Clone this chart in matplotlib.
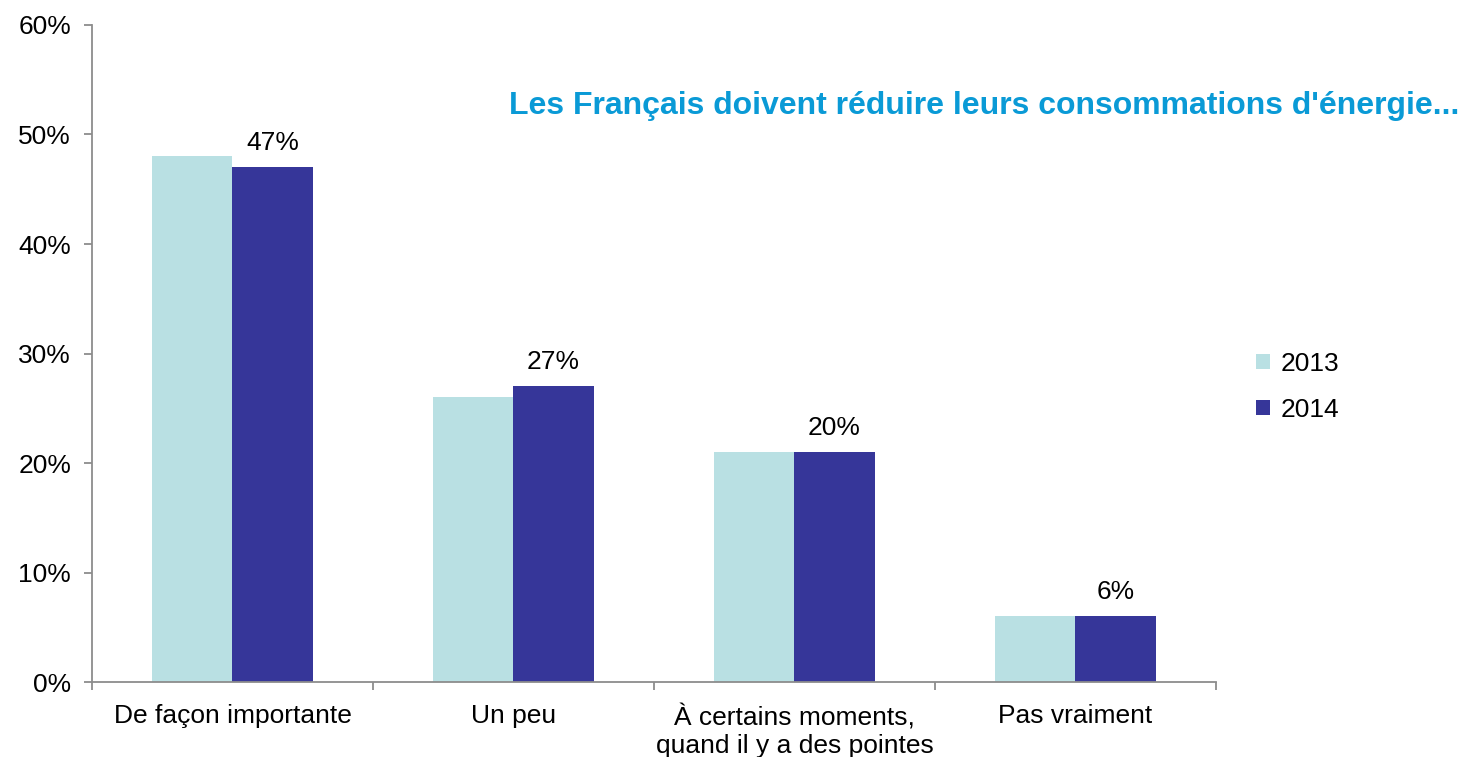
import matplotlib.pyplot as plt
import numpy as np
from matplotlib.ticker import FixedLocator, PercentFormatter
from matplotlib import font_manager

categories = ["De façon importante", "Un peu", "À certains moments,\nquand il y a des pointes", "Pas vraiment"]
values_2013 = [48, 26, 21, 6]
values_2014 = [47, 27, 21, 6]
labels_2014 = ["47%", "27%", "20%", "6%"]
series_names = ["2013", "2014"]
title_text = "Les Français doivent réduire leurs consommations d'énergie..."

names = {f.name for f in font_manager.fontManager.ttflist}
base_font = "Liberation Sans" if "Liberation Sans" in names else "DejaVu Sans"
plt.rcParams['font.family'] = [base_font, 'DejaVu Sans']

c2013 = "#B9E0E3"
c2014 = "#363699"
axis_col = "#8C8C8C"
fs = 19

fig = plt.figure(figsize=(14.64, 7.57), dpi=100)
ax = fig.add_axes([0.0628, 0.099, 0.7678, 0.868])

x = np.arange(len(categories))
w = 0.285
b1 = ax.bar(x - w / 2, values_2013, w, color=c2013, label=series_names[0])
b2 = ax.bar(x + w / 2, values_2014, w, color=c2014, label=series_names[1])

# labels only on the 2014 bars
for xi, v, lab in zip(x, values_2014, labels_2014):
    ax.annotate(lab, (xi + w / 2, v), xytext=(0, 9), textcoords="offset points",
                ha="center", va="bottom", fontsize=fs)

ax.set_xlim(-0.5, len(categories) - 0.5)
ax.set_ylim(0, 60)
ax.set_yticks(np.arange(0, 61, 10))
ax.yaxis.set_major_formatter(PercentFormatter(decimals=0))

ax.set_xticks(x)
ax.set_xticklabels(categories, fontsize=fs, linespacing=1.2)
ax.xaxis.set_minor_locator(FixedLocator(np.arange(-0.5, len(categories), 1.0)))
ax.tick_params(axis="x", which="major", length=0, pad=16)
ax.tick_params(axis="x", which="minor", length=6, width=1.3, color=axis_col, direction="out")
ax.tick_params(axis="y", length=6, width=1.3, color=axis_col, labelsize=fs, pad=9)

for s in ["top", "right"]:
    ax.spines[s].set_visible(False)
for s in ["left", "bottom"]:
    ax.spines[s].set_color(axis_col)
    ax.spines[s].set_linewidth(1.3)

fig.text(0.997, 0.860, title_text, ha="right", va="center", fontsize=23,
         fontweight="bold", color="#0A9AD6")

fig.legend(handles=[b1, b2], loc="center left", bbox_to_anchor=(0.842, 0.489),
           frameon=False, fontsize=fs, handlelength=0.5, handleheight=0.5,
           handletextpad=0.4, labelspacing=0.85)

fig.savefig("out.png", dpi=100)
